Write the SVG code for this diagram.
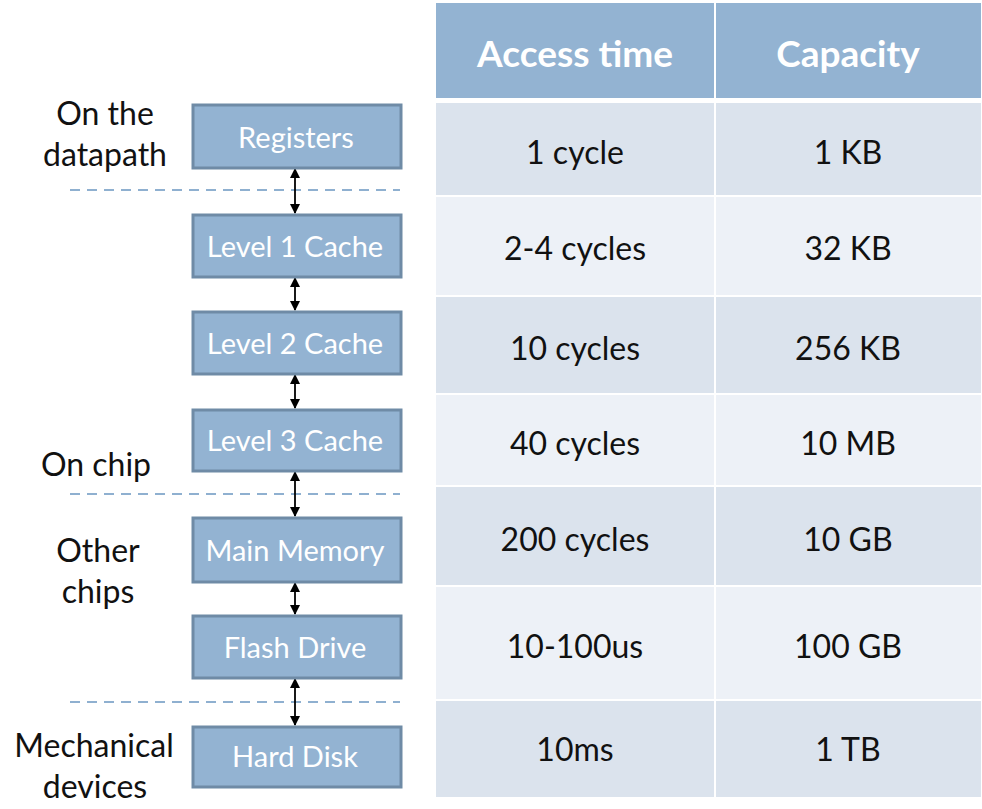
<svg xmlns="http://www.w3.org/2000/svg" width="982" height="809" viewBox="0 0 982 809">
<style>
.box{fill:#93b3d2;stroke:#6f8ba6;stroke-width:3}
.bt{font-family:Lato,"Liberation Sans",sans-serif;font-size:29px;fill:#ffffff;text-anchor:middle}
.lab{font-family:Lato,"Liberation Sans",sans-serif;font-size:32px;fill:#111111;text-anchor:middle}
.hd{fill:#93b3d2}
.dk{fill:#dbe3ed}
.lt{fill:#edf1f7}
.ht{font-family:Lato,"Liberation Sans",sans-serif;font-size:37px;font-weight:bold;fill:#ffffff;text-anchor:middle}
.ct{font-family:Lato,"Liberation Sans",sans-serif;font-size:32px;fill:#111111;text-anchor:middle}
.dash{stroke:#8fb0d0;stroke-width:2;stroke-dasharray:10 7;fill:none}
.con{stroke:#000;stroke-width:1.8;fill:none;marker-start:url(#ah);marker-end:url(#ah)}
</style>
<defs>
<marker id="ah" viewBox="0 0 10 10" refX="9" refY="5" markerWidth="10" markerHeight="11" markerUnits="userSpaceOnUse" orient="auto-start-reverse">
<path d="M0,0 L10,5 L0,10 z" fill="#000"/>
</marker>
</defs>
<rect width="982" height="809" fill="#ffffff"/>
<g id="table">
<rect class="hd" x="436" y="3" width="278" height="95"/>
<rect class="hd" x="716" y="3" width="265" height="95"/>
<rect class="dk" x="436" y="103" width="278" height="92"/>
<rect class="dk" x="716" y="103" width="265" height="92"/>
<rect class="lt" x="436" y="197" width="278" height="98"/>
<rect class="lt" x="716" y="197" width="265" height="98"/>
<rect class="dk" x="436" y="297" width="278" height="96"/>
<rect class="dk" x="716" y="297" width="265" height="96"/>
<rect class="lt" x="436" y="395" width="278" height="90"/>
<rect class="lt" x="716" y="395" width="265" height="90"/>
<rect class="dk" x="436" y="487" width="278" height="98"/>
<rect class="dk" x="716" y="487" width="265" height="98"/>
<rect class="lt" x="436" y="587" width="278" height="112"/>
<rect class="lt" x="716" y="587" width="265" height="112"/>
<rect class="dk" x="436" y="701" width="278" height="96"/>
<rect class="dk" x="716" y="701" width="265" height="96"/>
<text class="ht" x="575" y="67">Access time</text>
<text class="ht" x="848" y="67">Capacity</text>
<text class="ct" x="575" y="164">1 cycle</text>
<text class="ct" x="848" y="164">1 KB</text>
<text class="ct" x="575" y="260">2-4 cycles</text>
<text class="ct" x="848" y="260">32 KB</text>
<text class="ct" x="575" y="360">10 cycles</text>
<text class="ct" x="848" y="360">256 KB</text>
<text class="ct" x="575" y="455">40 cycles</text>
<text class="ct" x="848" y="455">10 MB</text>
<text class="ct" x="575" y="551">200 cycles</text>
<text class="ct" x="848" y="551">10 GB</text>
<text class="ct" x="575" y="658">10-100us</text>
<text class="ct" x="848" y="658">100 GB</text>
<text class="ct" x="575" y="761">10ms</text>
<text class="ct" x="848" y="761">1 TB</text>
</g>
<g id="separators">
<line class="dash" x1="70" y1="190" x2="400" y2="190"/>
<line class="dash" x1="70" y1="494" x2="400" y2="494"/>
<line class="dash" x1="70" y1="702" x2="400" y2="702"/>
</g>
<g id="labels">
<text class="lab" x="105" y="125">On the</text>
<text class="lab" x="105" y="166">datapath</text>
<text class="lab" x="96" y="476">On chip</text>
<text class="lab" x="98" y="562">Other</text>
<text class="lab" x="98" y="603">chips</text>
<text class="lab" x="94" y="757">Mechanical</text>
<text class="lab" x="95" y="798">devices</text>
</g>
<g id="connectors">
<line class="con" x1="295" y1="169" x2="295" y2="213"/>
<line class="con" x1="295" y1="278" x2="295" y2="310"/>
<line class="con" x1="295" y1="375" x2="295" y2="408"/>
<line class="con" x1="295" y1="472" x2="295" y2="516"/>
<line class="con" x1="295" y1="583" x2="295" y2="614"/>
<line class="con" x1="295" y1="679" x2="295" y2="725"/>
</g>
<g id="registers"><rect class="box" x="193" y="105" width="208" height="63"/><text class="bt" x="296" y="148">Registers</text></g>
<g id="l1"><rect class="box" x="193" y="215" width="208" height="62"/><text class="bt" x="295" y="257">Level 1 Cache</text></g>
<g id="l2"><rect class="box" x="193" y="312" width="208" height="62"/><text class="bt" x="295" y="354">Level 2 Cache</text></g>
<g id="l3"><rect class="box" x="193" y="410" width="208" height="61"/><text class="bt" x="295" y="451">Level 3 Cache</text></g>
<g id="main"><rect class="box" x="193" y="518" width="208" height="64"/><text class="bt" x="295" y="561">Main Memory</text></g>
<g id="flash"><rect class="box" x="193" y="616" width="208" height="62"/><text class="bt" x="295" y="658">Flash Drive</text></g>
<g id="hdd"><rect class="box" x="193" y="727" width="208" height="60"/><text class="bt" x="295" y="767">Hard Disk</text></g>
</svg>
